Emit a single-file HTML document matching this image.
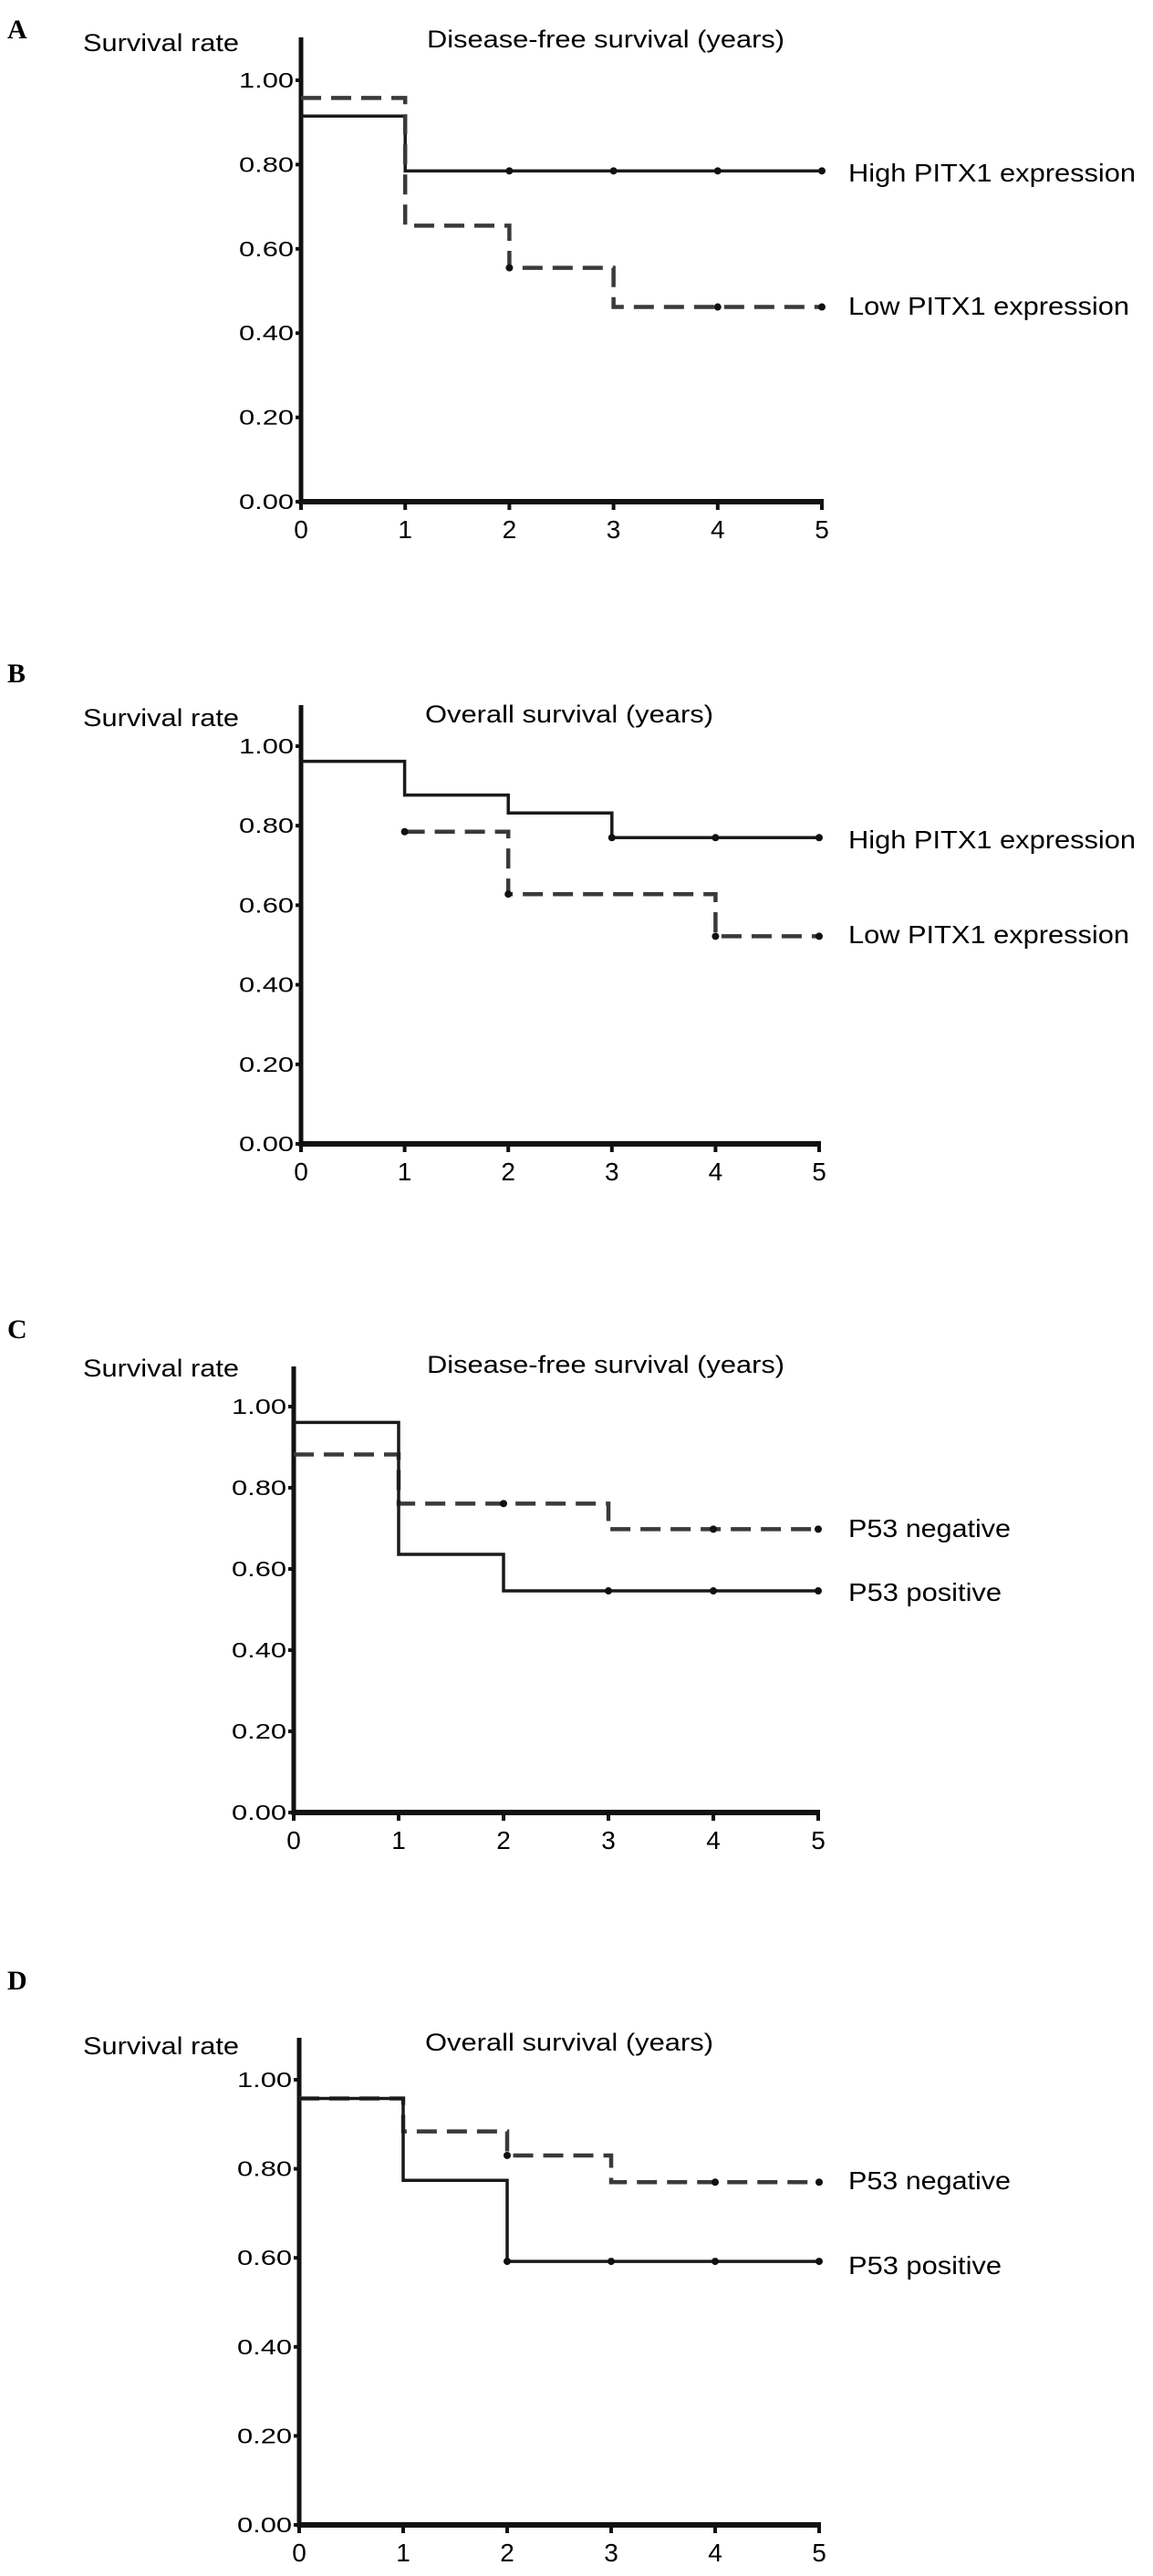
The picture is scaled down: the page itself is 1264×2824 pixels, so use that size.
<!DOCTYPE html>
<html><head><meta charset="utf-8"><style>
html,body{margin:0;padding:0;background:#fff;}
svg{display:block;font-family:"Liberation Sans",Arial,sans-serif;}
</style></head><body>
<svg id="fig" width="1264" height="2824" viewBox="0 0 1264 2824"></svg>
<script>
// ---- data ----
const xTicks = [0,1,2,3,4,5];
const yTicks = [0,0.2,0.4,0.6,0.8,1.0];
const yTickLabels = ["0.00","0.20","0.40","0.60","0.80","1.00"];

const aHighTimes = [0,1,5];      const aHighVals = [0.915,0.785,0.785];  const aHighCens = [2,3,4,5];
const aLowTimes  = [0,1,2,3,5];  const aLowVals  = [0.958,0.655,0.555,0.462,0.462]; const aLowCens = [2,4,5];

const bHighTimes = [0,1,2,3,5];  const bHighVals = [0.962,0.877,0.832,0.77,0.77]; const bHighCens = [3,4,5];
const bLowTimes  = [1,2,4,5];    const bLowVals  = [0.785,0.628,0.522,0.522]; const bLowCens = [1,2,4,5];

const cPosTimes = [0,1,2,5];     const cPosVals = [0.961,0.636,0.546,0.546]; const cPosCens = [3,4,5];
const cNegTimes = [0,1,3,5];     const cNegVals = [0.882,0.761,0.698,0.698]; const cNegCens = [2,4,5];

const dPosTimes = [0,1,2,5];     const dPosVals = [0.958,0.774,0.592,0.592]; const dPosCens = [2,3,4,5];
const dNegTimes = [0,1,2,3,5];   const dNegVals = [0.958,0.884,0.83,0.77,0.77]; const dNegCens = [2,4,5];

// ---- layout ----
const panels = [
 {id:'a',letter:'A',letterY:42,x0:330,x5:901,y0:550,y1:88,top:41,title:'Disease-free survival (years)',titleX:468,titleW:392,titleY:52,
  series:[
   {name:'high-pitx1',t:aHighTimes,v:aHighVals,c:aHighCens,dash:false,label:'High PITX1 expression',labelW:315,labelY:199},
   {name:'low-pitx1',t:aLowTimes,v:aLowVals,c:aLowCens,dash:true,label:'Low PITX1 expression',labelW:308,labelY:345}]},
 {id:'b',letter:'B',letterY:748,x0:330,x5:898,y0:1254,y1:818,top:773,title:'Overall survival (years)',titleX:466,titleW:316,titleY:792,
  series:[
   {name:'high-pitx1',t:bHighTimes,v:bHighVals,c:bHighCens,dash:false,label:'High PITX1 expression',labelW:315,labelY:930},
   {name:'low-pitx1',t:bLowTimes,v:bLowVals,c:bLowCens,dash:true,label:'Low PITX1 expression',labelW:308,labelY:1034}]},
 {id:'c',letter:'C',letterY:1467,x0:322,x5:897,y0:1987,y1:1542,top:1498,title:'Disease-free survival (years)',titleX:468,titleW:392,titleY:1505,
  series:[
   {name:'p53-negative',t:cNegTimes,v:cNegVals,c:cNegCens,dash:true,label:'P53 negative',labelW:178,labelY:1685},
   {name:'p53-positive',t:cPosTimes,v:cPosVals,c:cPosCens,dash:false,label:'P53 positive',labelW:168,labelY:1755}]},
 {id:'d',letter:'D',letterY:2181,x0:328,x5:898,y0:2768,y1:2280,top:2234,title:'Overall survival (years)',titleX:466,titleW:316,titleY:2248,
  series:[
   {name:'p53-negative',t:dNegTimes,v:dNegVals,c:dNegCens,dash:true,label:'P53 negative',labelW:178,labelY:2400},
   {name:'p53-positive',t:dPosTimes,v:dPosVals,c:dPosCens,dash:false,label:'P53 positive',labelW:168,labelY:2493}]}
];

const NS='http://www.w3.org/2000/svg';
const svg=document.getElementById('fig');
function mk(tag,attrs,parent,txt){const e=document.createElementNS(NS,tag);for(const k in attrs)e.setAttribute(k,attrs[k]);if(txt!==undefined)e.textContent=txt;(parent||svg).appendChild(e);return e;}

panels.forEach(p=>{
  const g=mk('g',{});
  
  
  const X=t=>p.x0+(p.x5-p.x0)*t/5;
  const Y=v=>p.y0-(p.y0-p.y1)*v;
  const L=mk('text',{x:8,y:p.letterY,'font-family':'Liberation Serif,serif','font-weight':'bold','font-size':30},g,p.letter);
  
  
  const yt=mk('text',{x:91,y:p.titleY+4,'font-size':27,textLength:171,lengthAdjust:'spacingAndGlyphs'},g,'Survival rate');
  
  
  const tt=mk('text',{x:p.titleX,y:p.titleY,'font-size':27,textLength:p.titleW,lengthAdjust:'spacingAndGlyphs'},g,p.title);
  
  
  const ya=mk('line',{x1:p.x0,y1:p.top,x2:p.x0,y2:p.y0+3,stroke:'#111','stroke-width':5},g);
  
  
  const xa=mk('line',{x1:p.x0-2,y1:p.y0,x2:X(5)+2,y2:p.y0,stroke:'#111','stroke-width':6},g);
  
  
  yTicks.forEach((v,i)=>{
    mk('line',{x1:p.x0-6,y1:Y(v),x2:p.x0,y2:Y(v),stroke:'#111','stroke-width':4},g);
    const t=mk('text',{x:p.x0-8,y:Y(v)+8,'font-size':23,'text-anchor':'end',textLength:60,lengthAdjust:'spacingAndGlyphs'},g,yTickLabels[i]);
    
    
  });
  xTicks.forEach(t=>{
    mk('line',{x1:X(t),y1:p.y0,x2:X(t),y2:p.y0+9,stroke:'#111','stroke-width':4},g);
    const tx=mk('text',{x:X(t),y:p.y0+40,'font-size':28,'text-anchor':'middle'},g,String(t));
    
    
  });
  p.series.forEach(s=>{
    let d='M'+X(s.t[0])+' '+Y(s.v[0]);
    for(let i=1;i<s.t.length;i++){d+=' H'+X(s.t[i])+' V'+Y(s.v[i]);}
    const path=mk('path',{d:d,fill:'none',stroke:s.dash?'#3a3a3a':'#1a1a1a','stroke-width':s.dash?4.5:3.5,'stroke-dasharray':s.dash?'22 11':'none'},g);
    
    
    s.c.forEach(ct=>{
      let v=s.v[0];for(let i=0;i<s.t.length;i++){if(s.t[i]<=ct)v=s.v[i];}
      const m=mk('circle',{cx:X(ct),cy:Y(v),r:4,fill:'#111'},g);
      
      
    });
    const lb=mk('text',{x:930,y:s.labelY,'font-size':28,textLength:s.labelW,lengthAdjust:'spacingAndGlyphs'},g,s.label);
    
    
  });
});
</script>
</body></html>
